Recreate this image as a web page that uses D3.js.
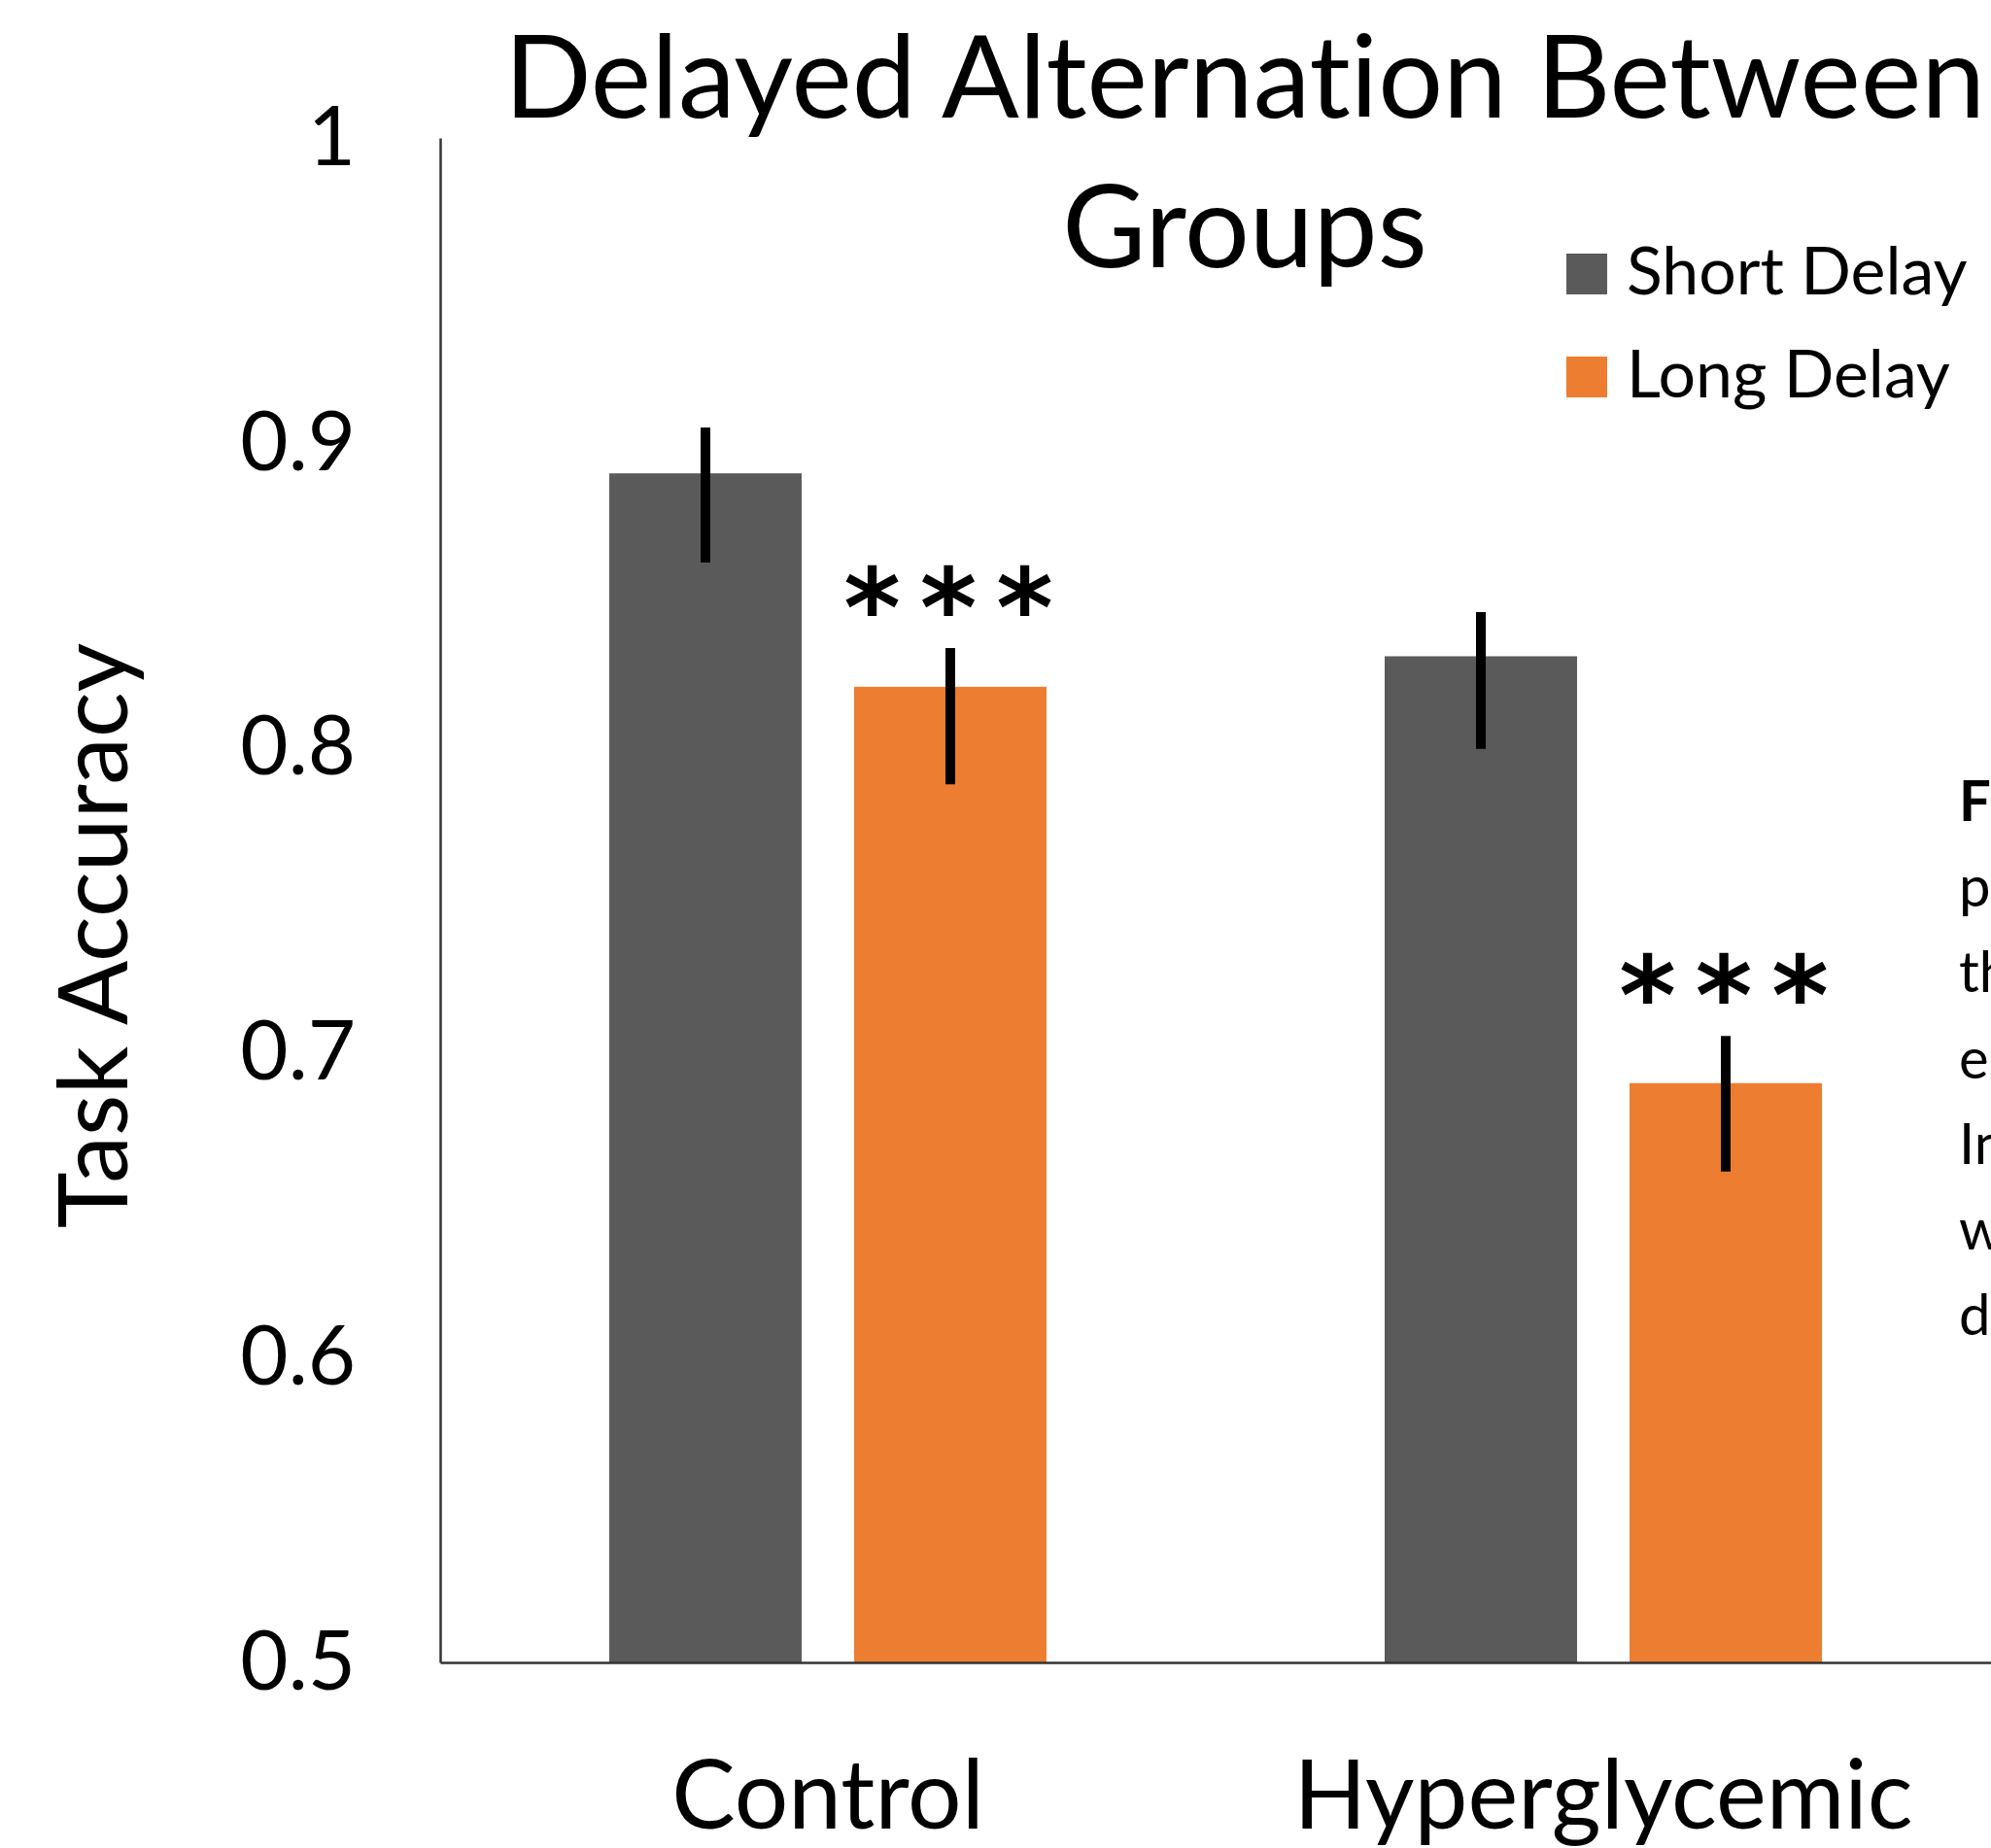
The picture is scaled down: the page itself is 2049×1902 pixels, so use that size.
<!DOCTYPE html>
<html>
<head>
<meta charset="utf-8">
<script src="https://cdn.jsdelivr.net/npm/d3@7"></script>
<style>
  html, body { margin: 0; padding: 0; background: #fff; }
  svg { display: block; font-family: Lato, "Open Sans", sans-serif; font-variant-ligatures: none; }
</style>
</head>
<body>
<svg id="chart" width="2049" height="1902"></svg>
<script>
const groups = ['Control', 'Hyperglycemic'];
const series = ['Short Delay', 'Long Delay'];
const colors = ['#5a5a5a', '#ed7d31'];
// accuracy per group, one array per series
const shortDelay = [0.89, 0.83];
const longDelay = [0.82, 0.69];
// error bar ends as drawn (they sit a little low on each bar)
const shortHigh = [0.905, 0.8445];
const shortLow = [0.8607, 0.7996];
const longHigh = [0.8327, 0.7055];
const longLow = [0.788, 0.661];
const yTicks = [0.5, 0.6, 0.7, 0.8, 0.9, 1];
const starred = ['Long Delay', 'Long Delay']; // series marked *** in each group
const captionLines = ['Figure 3.', 'performance', 'the', 'error', 'In', 'were', 'delay'];

const svg = d3.select('#chart');
const W = 2049;

const y = d3.scaleLinear().domain([0.5, 1]).range([1711, 142]);
const x0 = d3.scaleBand().domain(groups).range([453, W]);
const x1 = d3.scaleBand().domain(series).range([0, x0.bandwidth()])
    .paddingInner(0.2143).paddingOuter(0.6905);

const rows = [];
groups.forEach((g, i) => {
    rows.push({ group: g, key: series[0], value: shortDelay[i], hi: shortHigh[i], lo: shortLow[i], color: colors[0] });
    rows.push({ group: g, key: series[1], value: longDelay[i], hi: longHigh[i], lo: longLow[i], color: colors[1] });
});

// bars
svg.append('g')
    .selectAll('rect')
    .data(rows)
    .enter()
    .append('rect')
    .attr('x', d => x0(d.group) + x1(d.key))
    .attr('y', d => y(d.value))
    .attr('width', x1.bandwidth())
    .attr('height', d => y(0.5) - y(d.value))
    .attr('fill', d => d.color);

// error bars
svg.append('g')
    .selectAll('line')
    .data(rows)
    .enter()
    .append('line')
    .attr('x1', d => x0(d.group) + x1(d.key) + x1.bandwidth() / 2)
    .attr('x2', d => x0(d.group) + x1(d.key) + x1.bandwidth() / 2)
    .attr('y1', d => y(d.hi))
    .attr('y2', d => y(d.lo))
    .attr('stroke', '#000')
    .attr('stroke-width', 10);

// significance stars
svg.append('g')
    .selectAll('text')
    .data(rows.filter((d, i) => d.key === starred[Math.floor(i / 2)]))
    .enter()
    .append('text')
    .attr('x', d => x0(d.group) + x1(d.key) + x1.bandwidth() / 2 + 8)
    .attr('y', d => y(d.hi) - 2)
    .attr('text-anchor', 'middle')
    .style('font-family', '"DejaVu Sans", sans-serif')
    .style('font-weight', 'bold')
    .style('font-size', '112px')
    .style('letter-spacing', '20px')
    .text('***');

// axes
const yAxis = svg.append('g')
    .attr('transform', 'translate(453,0)')
    .call(d3.axisLeft(y).tickValues(yTicks).tickSize(0).tickSizeOuter(0).tickPadding(87)
        .tickFormat(d => d === 1 ? '1' : d3.format('.1f')(d)));
yAxis.select('.domain').attr('stroke', '#333').attr('stroke-width', 2.5);
yAxis.selectAll('text').style('font-size', '85px').style('font-family', 'Lato').attr('fill', '#000');

const xAxis = svg.append('g')
    .attr('transform', 'translate(0,1711)')
    .call(d3.axisBottom(x0).tickSize(0).tickSizeOuter(0).tickPadding(101));
xAxis.select('.domain').attr('stroke', '#333').attr('stroke-width', 2.5);
xAxis.selectAll('text').style('font-size', '98px').style('font-family', 'Lato').attr('fill', '#000');

// axis title
svg.append('text')
    .attr('transform', 'translate(131,963) rotate(-90)')
    .attr('text-anchor', 'middle')
    .style('font-size', '98px')
    .text('Task Accuracy');

// title
const title = svg.append('text')
    .attr('text-anchor', 'middle')
    .style('font-size', '118px');
title.append('tspan').attr('x', 1281).attr('y', 121).text('Delayed Alternation Between');
title.append('tspan').attr('x', 1281).attr('y', 275).text('Groups');

// legend
const legend = svg.append('g')
    .selectAll('g')
    .data(series)
    .enter()
    .append('g')
    .attr('transform', (d, i) => `translate(1612,${261 + i * 106})`);
legend.append('rect')
    .attr('width', 42)
    .attr('height', 42)
    .attr('fill', (d, i) => colors[i]);
legend.append('text')
    .attr('x', 62)
    .attr('y', 42)
    .style('font-size', '68px')
    .text(d => d);

// figure caption next to the chart, cut off by the edge
svg.append('g')
    .selectAll('text')
    .data(captionLines)
    .enter()
    .append('text')
    .attr('x', 2016)
    .attr('y', (d, i) => 845 + i * 88.2)
    .style('font-size', '58px')
    .style('font-weight', (d, i) => i === 0 ? 'bold' : 'normal')
    .text(d => d);
</script>
</body>
</html>
